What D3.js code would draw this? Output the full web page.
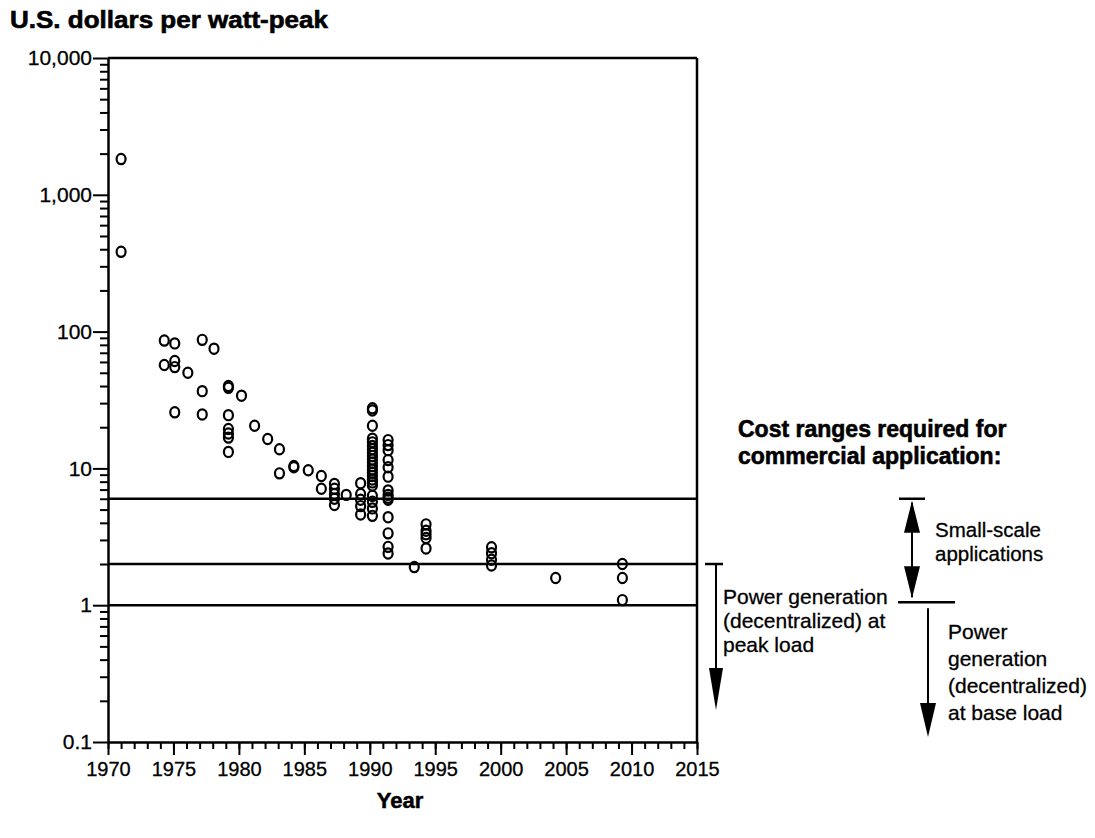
<!DOCTYPE html>
<html>
<head>
<meta charset="utf-8">
<script src="https://cdn.jsdelivr.net/npm/d3@7"></script>
<style>
    body { margin: 0; background: #fff; }
    svg text { font-family: "Liberation Sans", Arial, Helvetica, sans-serif; fill: #000; }
</style>
</head>
<body>
<script>
// year of each column of points
var years = [1971, 1974.3, 1975.1, 1976.1, 1977.2, 1978.1, 1979.2, 1980.2, 1981.2, 1982.2,
    1983.1, 1984.2, 1985.3, 1986.3, 1987.3, 1988.2, 1989.3, 1990.2, 1991.4, 1993.4,
    1994.3, 1999.3, 2004.2, 2009.3];
// costs (US$ per watt-peak) in each column
var costs = [
    [1825, 383],
    [86, 57],
    [82, 61, 55, 25.7],
    [50],
    [87, 36.7, 24.8],
    [75],
    [40, 38.8, 24.5, 19.4, 18, 16.8, 13.2],
    [34],
    [20.5],
    [16.4],
    [13.8, 9.2],
    [10.4, 10.2],
    [9.7],
    [8.8, 7.1],
    [7.7, 7.1, 6.5, 6.0, 5.4],
    [6.4],
    [7.8, 6.5, 5.9, 5.3, 4.6],
    [27.5, 26.5, 20.5, 16.5, 15.5, 14.6, 13.8, 13, 12.3, 11.6, 11, 10.4, 9.8, 9.3, 8.8, 8.3, 7.9, 7.5, 6.3, 5.7, 5.1, 4.5],
    [16.1, 14.8, 13.6, 11.5, 10.2, 8.7, 6.9, 6.4, 6.1, 5.9, 4.4, 3.35, 2.67, 2.39],
    [1.9],
    [3.9, 3.5, 3.3, 3.1, 2.6],
    [2.65, 2.4, 2.15, 1.95],
    [1.58],
    [2.0, 1.58, 1.09]
];
// cost thresholds drawn across the plot
var levels = [6, 2, 1];
var yTicks = [0.1, 1, 10, 100, 1000, 10000];
var xTicks = [1970, 1975, 1980, 1985, 1990, 1995, 2000, 2005, 2010, 2015];

(function(){
    var w = 1095, h = 838;
    var svg = d3.select("body").append("svg")
        .attr("width", w)
        .attr("height", h);

    var x = d3.scaleLinear().domain([1970, 2015]).range([108, 697]);
    var y = d3.scaleLog().domain([0.1, 10000]).range([742, 58]);

    // minor tick values
    var yMinor = [];
    yTicks.slice(0, -1).forEach(function(d) {
        for (var k = 2; k < 10; k++) yMinor.push(d * k);
    });
    var xMinor = d3.range(1970, 2016);

    // title
    svg.append("text")
        .attr("x", 10).attr("y", 28)
        .attr("font-size", 23).attr("font-weight", "bold")
        .attr("stroke", "#000").attr("stroke-width", 0.6)
        .attr("textLength", 318).attr("lengthAdjust", "spacingAndGlyphs")
        .text("U.S. dollars per watt-peak");

    // y axis
    var yMin = svg.append("g").attr("transform", "translate(108,0)")
        .call(d3.axisLeft(y).tickValues(yMinor).tickSize(8).tickSizeOuter(0).tickFormat(""));
    yMin.select(".domain").remove();
    yMin.selectAll("line").attr("stroke-width", 2);

    var yAx = svg.append("g").attr("transform", "translate(108,0)")
        .call(d3.axisLeft(y).tickValues(yTicks).tickSize(15).tickSizeOuter(0)
            .tickFormat(d3.format(",")));
    yAx.select(".domain").attr("stroke-width", 2.5);
    yAx.selectAll("line").attr("stroke-width", 2);
    yAx.selectAll("text").attr("font-size", 21).attr("x", -16).attr("dy", "0.32em")
        .attr("stroke", "#000").attr("stroke-width", 0.3);

    // x axis
    var xMin = svg.append("g").attr("transform", "translate(0," + y(0.1) + ")")
        .call(d3.axisBottom(x).tickValues(xMinor).tickSize(7).tickSizeOuter(0).tickFormat(""));
    xMin.select(".domain").remove();
    xMin.selectAll("line").attr("stroke-width", 2);

    var xAx = svg.append("g").attr("transform", "translate(0," + y(0.1) + ")")
        .call(d3.axisBottom(x).tickValues(xTicks).tickSize(13).tickSizeOuter(0)
            .tickFormat(d3.format("d")));
    xAx.select(".domain").attr("stroke-width", 2.5);
    xAx.selectAll("line").attr("stroke-width", 2);
    xAx.selectAll("text").attr("font-size", 20).attr("y", 20)
        .attr("stroke", "#000").attr("stroke-width", 0.3);

    svg.append("text")
        .attr("x", 400).attr("y", 808)
        .attr("text-anchor", "middle")
        .attr("font-size", 22).attr("font-weight", "bold")
        .attr("stroke", "#000").attr("stroke-width", 0.5)
        .text("Year");

    // top and right border
    svg.append("line")
        .attr("x1", x(1970)).attr("x2", x(2015))
        .attr("y1", y(10000)).attr("y2", y(10000))
        .attr("stroke", "#000").attr("stroke-width", 2.5);
    svg.append("line")
        .attr("x1", x(2015)).attr("x2", x(2015))
        .attr("y1", y(10000)).attr("y2", y(0.1))
        .attr("stroke", "#000").attr("stroke-width", 2.5);

    // threshold lines
    svg.selectAll("line.level")
        .data(levels)
        .enter()
        .append("line")
        .attr("class", "level")
        .attr("x1", x(1970)).attr("x2", x(2015))
        .attr("y1", function(d) { return y(d); })
        .attr("y2", function(d) { return y(d); })
        .attr("stroke", "#000").attr("stroke-width", 2.5);

    // points
    var pts = [];
    years.forEach(function(yr, i) {
        costs[i].forEach(function(c) { pts.push({ year: yr, cost: c }); });
    });
    svg.selectAll("ellipse")
        .data(pts)
        .enter()
        .append("ellipse")
        .attr("cx", function(d) { return x(d.year); })
        .attr("cy", function(d) { return y(d.cost); })
        .attr("rx", 4.5)
        .attr("ry", 5.1)
        .attr("fill", "none")
        .attr("stroke", "#000")
        .attr("stroke-width", 2.2);

    // annotations on the right
    function line(x1, y1, x2, y2, sw) {
        svg.append("line")
            .attr("x1", x1).attr("y1", y1).attr("x2", x2).attr("y2", y2)
            .attr("stroke", "#000").attr("stroke-width", sw || 2);
    }
    function head(cx, tipY, len, half, up) {
        var s = up ? 1 : -1;
        svg.append("path")
            .attr("d", "M" + cx + "," + tipY + "L" + (cx - half) + "," + (tipY + s * len) +
                "L" + (cx + half) + "," + (tipY + s * len) + "Z")
            .attr("fill", "#000");
    }
    function label(x0, y0, lines, size, bold, gap) {
        var t = svg.append("text")
            .attr("x", x0).attr("y", y0)
            .attr("font-size", size)
            .attr("font-weight", bold ? "bold" : "normal")
            .attr("stroke", "#000").attr("stroke-width", bold ? 0.6 : 0.3);
        lines.forEach(function(s, i) {
            t.append("tspan").attr("x", x0).attr("dy", i ? gap : 0).text(s);
        });
    }

    label(738, 437, ["Cost ranges required for", "commercial application:"], 23, true, 27);

    // small-scale: between 6 and 1
    line(899, y(6), 925, y(6), 2.5);
    line(912, y(6) + 4, 912, y(1) - 8, 2);
    head(912, y(6) + 2, 32, 8, true);
    head(912, y(1) - 7, 32, 8, false);
    line(898, y(1) - 3, 955, y(1) - 3, 2.5);
    label(935, 537, ["Small-scale", "applications"], 20.5, false, 24);

    // peak load: below 2
    line(705, y(2), 723, y(2), 2.5);
    line(716, y(2), 716, 700, 2);
    head(716, 710, 42, 7, false);
    label(723, 604, ["Power generation", "(decentralized) at", "peak load"], 21, false, 24);

    // base load: below 1
    line(928, y(1) + 3, 928, 725, 2);
    head(928, 737, 34, 8, false);
    label(948, 639, ["Power", "generation", "(decentralized)", "at base load"], 21, false, 27);
}());
</script>
</body>
</html>
